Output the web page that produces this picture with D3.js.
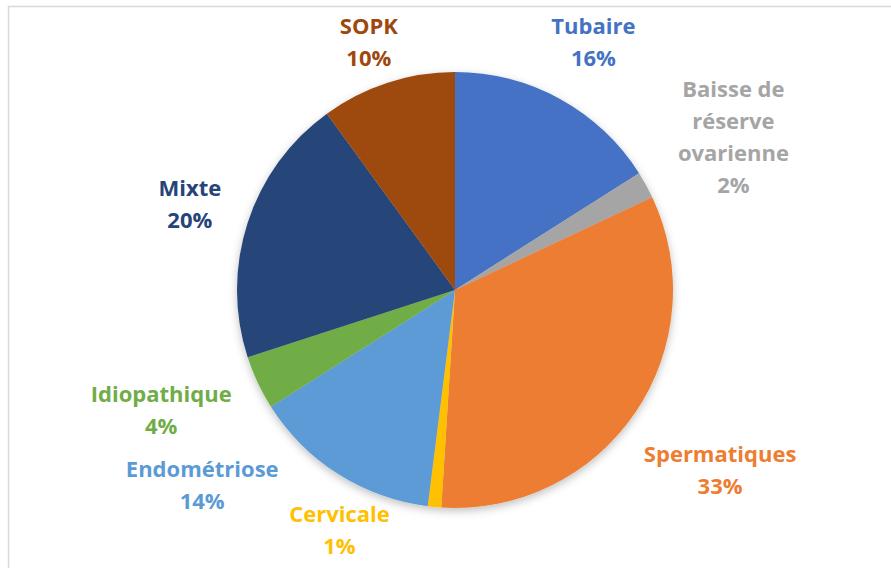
<!DOCTYPE html>
<html>
<head>
<meta charset="utf-8">
<script src="https://cdn.jsdelivr.net/npm/d3@7"></script>
<style>
  body { margin: 0; background: #fff; }
  svg { display: block; }
</style>
</head>
<body>
<div id="chart"></div>
<script>
// data
const categories = ["Tubaire", "Baisse de réserve ovarienne", "Spermatiques", "Cervicale", "Endométriose", "Idiopathique", "Mixte", "SOPK"];
const values = [16, 2, 33, 1, 14, 4, 20, 10];
const labelLines = [["Tubaire"], ["Baisse de", "réserve", "ovarienne"], ["Spermatiques"], ["Cervicale"], ["Endométriose"], ["Idiopathique"], ["Mixte"], ["SOPK"]];
const colors = ["#4472C4", "#A5A5A5", "#ED7D31", "#FFC000", "#5B9BD5", "#70AD47", "#264478", "#9E480E"];

const width = 891, height = 568;
const cx = 455, cy = 290, radius = 218;
const fontSize = 22, lineH = 32, gap = 22, labelPad = 10;
// area the labels must stay in (relative to pie centre)
const bounds = { x0: 14 - cx, x1: 885 - cx, y0: 10 - cy, y1: 562 - cy };

const svg = d3.select("#chart").append("svg")
  .attr("width", width)
  .attr("height", height);

// frame, cut off on the right and bottom like the original
svg.append("rect")
  .attr("x", 8.5).attr("y", 6.5)
  .attr("width", 1000).attr("height", 1000)
  .attr("fill", "none")
  .attr("stroke", "#d9d9d9")
  .attr("stroke-width", 1.5);

const f = svg.append("defs").append("filter").attr("id", "shadow")
  .attr("x", "-20%").attr("y", "-20%").attr("width", "140%").attr("height", "140%");
f.append("feDropShadow")
  .attr("dx", 0).attr("dy", 3)
  .attr("stdDeviation", 4)
  .attr("flood-color", "#000")
  .attr("flood-opacity", 0.25);

const data = categories.map((c, i) => ({ name: c, value: values[i], lines: labelLines[i], i: i }));

const pie = d3.pie().value(d => d.value).sort(null);
const arcs = pie(data);
const arc = d3.arc().innerRadius(0).outerRadius(radius);

const g = svg.append("g").attr("transform", `translate(${cx},${cy})`);

g.append("g").attr("filter", "url(#shadow)")
  .selectAll("path")
  .data(arcs)
  .enter()
  .append("path")
    .attr("d", arc)
    .attr("fill", d => colors[d.data.i]);

const labels = g.selectAll("text.lbl")
  .data(arcs)
  .enter()
  .append("text")
    .classed("lbl", true)
    .attr("font-family", "'Open Sans', sans-serif")
    .attr("font-weight", "bold")
    .attr("font-size", fontSize + "px")
    .attr("text-anchor", "middle")
    .attr("fill", d => colors[d.data.i]);

labels.each(function(d) {
  const t = d3.select(this);
  const lines = d.data.lines.concat([d.data.value + "%"]);
  lines.forEach((l, k) => {
    t.append("tspan").attr("x", 0).attr("dy", k === 0 ? 0 : lineH).text(l);
  });
});

// --- label placement: box just outside the pie, kept inside the frame, no overlaps
const boxDist = (x, y, hw, hh) => {
  const dx = Math.max(0, Math.abs(x) - hw), dy = Math.max(0, Math.abs(y) - hh);
  return Math.sqrt(dx * dx + dy * dy);
};
const placeAt = (a, hw, hh) => {
  const ux = Math.sin(a), uy = -Math.cos(a);
  let lo = 0, hi = 1000;
  for (let k = 0; k < 40; k++) {
    const m = (lo + hi) / 2;
    if (boxDist(ux * m, uy * m, hw, hh) < radius + gap) lo = m; else hi = m;
  }
  return { x: ux * hi, y: uy * hi };
};
const fit = (p, a, hw, hh) => {
  let x = p.x, y = p.y;
  if (y - hh < bounds.y0) y = bounds.y0 + hh;
  if (y + hh > bounds.y1) y = bounds.y1 - hh;
  if (x - hw < bounds.x0) x = bounds.x0 + hw;
  if (x + hw > bounds.x1) x = bounds.x1 - hw;
  if (boxDist(x, y, hw, hh) < radius) {
    // slide sideways until the box clears the circle
    const ey = Math.max(0, Math.abs(y) - hh);
    const ex = Math.sqrt(Math.max(0, radius * radius - ey * ey));
    const s = Math.sin(a) < 0 ? -1 : 1;
    x = s * (ex + hw);
  }
  return { x: x, y: y };
};
const overlaps = (b, list) => list.some(o =>
  Math.abs(b.x - o.x) < b.hw + o.hw + labelPad && Math.abs(b.y - o.y) < b.hh + o.hh + labelPad);

const placed = [];
labels.each(function(d) {
  const n = d.data.lines.length + 1;
  const hw = this.getBBox().width / 2, hh = n * lineH / 2;
  let a = (d.startAngle + d.endAngle) / 2;
  let p = fit(placeAt(a, hw, hh), a, hw, hh);
  let tries = 0;
  while (overlaps({ x: p.x, y: p.y, hw: hw, hh: hh }, placed) && tries < 120) {
    a += Math.PI / 180;
    p = fit(placeAt(a, hw, hh), a, hw, hh);
    tries++;
  }
  placed.push({ x: p.x, y: p.y, hw: hw, hh: hh });
  d3.select(this).attr("transform", `translate(${p.x},${p.y - hh + 24})`);
});
</script>
</body>
</html>
